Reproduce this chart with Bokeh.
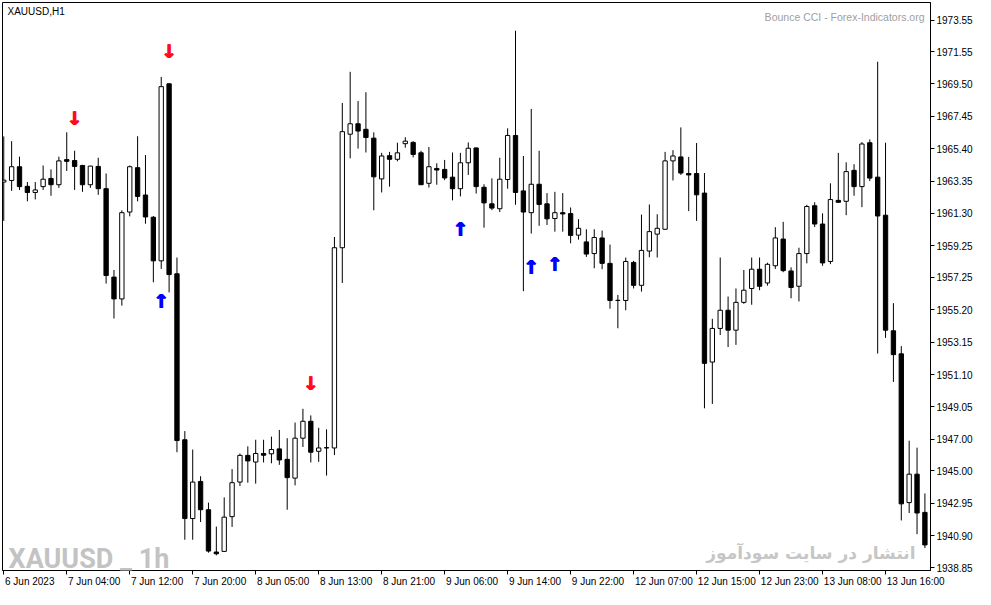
from bokeh.plotting import figure
from bokeh.models import Range1d, FixedTicker, PrintfTickFormatter, Label, ColumnDataSource, LinearAxis
from bokeh.core.properties import value
from bokeh.embed import file_html
from bokeh.resources import INLINE

# ---------------- data (XAUUSD, H1) ----------------
opens = [1963.29, 1963.39, 1964.26, 1963.02, 1962.63, 1963.00, 1963.52, 1963.12, 1964.71, 1964.65,
         1964.34, 1963.12, 1964.28, 1962.87, 1957.27, 1955.89, 1961.39, 1964.20, 1962.47, 1961.06,
         1958.30, 1969.51, 1957.48, 1946.97, 1941.98, 1944.33, 1942.54, 1939.86, 1939.90, 1942.10,
         1944.29, 1945.98, 1945.56, 1946.10, 1946.08, 1946.39, 1945.73, 1944.54, 1947.07, 1948.14,
         1946.24, 1946.45, 1946.45, 1959.13, 1966.32, 1966.98, 1966.63, 1966.07, 1963.49, 1964.96,
         1964.73, 1965.72, 1965.80, 1965.14, 1963.21, 1964.15, 1964.09, 1963.60, 1962.87, 1964.51,
         1965.45, 1962.96, 1961.91, 1961.60, 1963.45, 1966.24, 1962.73, 1961.35, 1963.15, 1961.91,
         1960.98, 1961.35, 1961.29, 1959.93, 1959.50, 1958.76, 1959.75, 1958.14, 1955.79, 1955.79,
         1958.20, 1956.75, 1958.92, 1959.99, 1960.30, 1964.63, 1964.88, 1963.83, 1963.83, 1962.59,
         1951.89, 1954.02, 1955.17, 1953.91, 1955.67, 1956.55, 1957.77, 1956.90, 1957.99, 1959.68,
         1957.66, 1956.69, 1958.76, 1961.79, 1960.63, 1958.26, 1962.13, 1962.07, 1964.03, 1963.00,
         1965.78, 1963.60, 1961.19, 1953.87, 1952.41, 1942.99, 1944.79, 1942.37]
highs = [1966.18, 1965.88, 1964.90, 1963.29, 1963.29, 1964.34, 1964.09, 1964.90, 1966.44, 1965.27,
         1964.38, 1964.32, 1964.83, 1963.83, 1957.72, 1961.50, 1964.34, 1966.19, 1965.00, 1961.14,
         1969.95, 1969.55, 1958.51, 1947.52, 1946.35, 1944.66, 1942.99, 1941.47, 1943.32, 1945.11,
         1946.10, 1946.55, 1946.97, 1946.97, 1947.17, 1947.59, 1947.07, 1948.06, 1948.93, 1948.51,
         1947.73, 1947.63, 1959.81, 1968.30, 1970.27, 1968.42, 1968.98, 1966.44, 1965.14, 1965.20,
         1965.78, 1966.13, 1965.88, 1965.27, 1965.51, 1964.48, 1964.69, 1965.16, 1965.14, 1965.80,
         1965.47, 1963.15, 1963.52, 1964.83, 1966.69, 1972.87, 1964.94, 1967.92, 1965.27, 1962.59,
         1962.67, 1962.59, 1961.68, 1960.94, 1960.30, 1960.30, 1960.22, 1959.33, 1956.14, 1958.51,
         1958.30, 1961.23, 1961.87, 1961.25, 1965.20, 1965.31, 1966.75, 1964.88, 1965.76, 1963.86,
         1954.63, 1958.51, 1956.04, 1956.55, 1957.72, 1958.51, 1958.51, 1958.18, 1960.43, 1960.77,
         1957.89, 1959.13, 1961.85, 1962.01, 1961.31, 1963.21, 1965.14, 1964.54, 1964.42, 1965.82,
         1965.99, 1970.91, 1965.78, 1955.62, 1952.90, 1946.91, 1946.47, 1943.57]
lows = [1960.83, 1962.73, 1962.79, 1962.07, 1962.19, 1962.79, 1962.42, 1962.92, 1963.99, 1962.79,
        1962.67, 1962.92, 1962.48, 1956.86, 1954.65, 1955.46, 1961.12, 1962.07, 1960.65, 1956.94,
        1957.79, 1956.30, 1946.18, 1940.64, 1940.64, 1941.76, 1939.82, 1939.65, 1939.88, 1941.45,
        1944.04, 1944.25, 1944.19, 1945.53, 1945.48, 1945.38, 1942.54, 1944.08, 1946.51, 1945.53,
        1945.57, 1944.70, 1946.00, 1956.90, 1964.79, 1965.41, 1965.16, 1961.50, 1962.63, 1963.00,
        1964.60, 1965.47, 1964.85, 1963.10, 1962.94, 1963.12, 1963.41, 1962.13, 1962.38, 1963.74,
        1962.56, 1960.40, 1961.51, 1961.39, 1962.87, 1961.85, 1956.38, 1960.03, 1960.52, 1960.57,
        1960.15, 1960.15, 1959.41, 1959.64, 1958.55, 1957.83, 1957.77, 1955.27, 1954.03, 1955.17,
        1956.55, 1956.35, 1958.53, 1958.51, 1960.26, 1963.39, 1963.74, 1961.45, 1960.83, 1948.96,
        1949.24, 1953.60, 1952.84, 1952.98, 1955.58, 1955.52, 1956.44, 1956.73, 1957.79, 1957.58,
        1955.93, 1955.73, 1958.14, 1960.44, 1957.99, 1958.09, 1961.97, 1961.19, 1962.42, 1961.70,
        1963.35, 1952.43, 1953.42, 1950.63, 1941.86, 1942.33, 1940.99, 1940.11]
closes = [1963.41, 1964.26, 1963.00, 1962.63, 1962.79, 1963.47, 1963.12, 1964.63, 1964.60, 1964.28,
          1963.12, 1964.30, 1962.87, 1957.37, 1955.89, 1961.35, 1964.26, 1962.38, 1961.08, 1958.30,
          1969.33, 1957.43, 1946.92, 1941.98, 1944.29, 1942.54, 1939.92, 1939.75, 1942.07, 1944.25,
          1945.98, 1945.63, 1946.10, 1945.99, 1946.35, 1945.69, 1944.57, 1947.07, 1948.14, 1946.18,
          1946.45, 1946.47, 1959.13, 1966.48, 1966.98, 1966.52, 1966.11, 1963.62, 1964.94, 1964.73,
          1965.14, 1965.88, 1965.04, 1963.12, 1964.26, 1964.05, 1963.55, 1962.87, 1964.51, 1965.43,
          1963.00, 1961.97, 1961.64, 1963.47, 1966.24, 1962.63, 1961.39, 1963.15, 1961.87, 1960.96,
          1961.35, 1961.27, 1959.91, 1960.36, 1958.73, 1959.78, 1958.14, 1955.79, 1955.80, 1958.26,
          1956.75, 1958.96, 1960.15, 1960.36, 1964.63, 1964.94, 1963.86, 1963.74, 1962.48, 1951.81,
          1954.02, 1955.17, 1953.91, 1955.67, 1956.44, 1957.77, 1956.69, 1958.08, 1959.75, 1957.68,
          1956.61, 1958.76, 1961.74, 1960.63, 1958.17, 1962.18, 1962.01, 1963.95, 1963.00, 1965.70,
          1963.54, 1961.14, 1953.91, 1952.36, 1942.91, 1944.79, 1942.33, 1940.31]

# indicator arrows (Bounce CCI)
sell_bars = [9, 21, 39]
sell_prices = [1967.37, 1971.60, 1950.58]
buy_bars = [20, 58, 67, 70]
buy_prices = [1955.73, 1960.31, 1957.93, 1958.10]

# axis ticks
x_tick_bars = [0, 8, 16, 24, 32, 40, 48, 56, 64, 72, 80, 88, 96, 104, 112]
x_tick_labels = ["6 Jun 2023", "7 Jun 04:00", "7 Jun 12:00", "7 Jun 20:00", "8 Jun 05:00",
                 "8 Jun 13:00", "8 Jun 21:00", "9 Jun 06:00", "9 Jun 14:00", "9 Jun 22:00",
                 "12 Jun 07:00", "12 Jun 15:00", "12 Jun 23:00", "13 Jun 08:00", "13 Jun 16:00"]
y_ticks = [1938.85, 1940.90, 1942.95, 1945.00, 1947.00, 1949.05, 1951.10, 1953.15, 1955.20,
           1957.25, 1959.25, 1961.30, 1963.35, 1965.40, 1967.45, 1969.50, 1971.55, 1973.55]

# ---------------- figure ----------------
X0, X1 = -0.16, 117.71
Y0, Y1 = 1938.69, 1974.66
FONT = "Liberation Sans"
LABEL_PX = 10
PX_PER_BAR = 7.8   # approx. horizontal scale, used only to left-align the time labels

p = figure(width=975, height=589, x_range=Range1d(X0, X1), y_range=Range1d(Y0, Y1),
           output_backend="svg", toolbar_location=None, y_axis_location="right",
           min_border_left=2, min_border_top=2, min_border_bottom=0, min_border_right=0)
p.background_fill_color = "white"
p.border_fill_color = "white"
p.outline_line_color = "black"
p.outline_line_width = 1
p.grid.visible = False

# y axis
p.yaxis.ticker = FixedTicker(ticks=y_ticks)
p.yaxis.formatter = PrintfTickFormatter(format="%.2f")
p.yaxis.major_label_text_font = FONT
p.yaxis.major_label_text_font_size = f"{LABEL_PX}px"
p.yaxis.major_label_text_color = "black"
p.yaxis.major_tick_in = 0
p.yaxis.major_tick_out = 4
p.yaxis.minor_tick_line_color = None
p.yaxis.major_label_standoff = 2
p.yaxis.axis_line_color = "black"

# x axis 1: tick marks only
p.xaxis.ticker = FixedTicker(ticks=x_tick_bars)
p.xaxis.major_label_overrides = {t: "" for t in x_tick_bars}
p.xaxis.major_tick_in = 0
p.xaxis.major_tick_out = 4
p.xaxis.minor_tick_line_color = None
p.xaxis.axis_line_color = "black"
p.xaxis.major_label_text_font_size = "1px"
p.xaxis.major_label_standoff = 0

# x axis 2: labels only, shifted so that each label starts at its tick (MetaTrader style)
ADV = {" ": 0.278, ":": 0.278, "J": 0.5, "u": 0.556, "n": 0.556}
def text_w(s):
    return sum(ADV.get(ch, 0.556) for ch in s) * LABEL_PX

lab_pos = [round(t + (text_w(s) / 2 + 1) / PX_PER_BAR, 3) for t, s in zip(x_tick_bars, x_tick_labels)]
ax2 = LinearAxis(ticker=FixedTicker(ticks=lab_pos),
                 major_label_overrides={pos: s for pos, s in zip(lab_pos, x_tick_labels)})
ax2.axis_line_color = None
ax2.major_tick_line_color = None
ax2.minor_tick_line_color = None
ax2.major_tick_in = 0
ax2.major_tick_out = 0
ax2.major_label_standoff = 1
ax2.major_label_text_font = FONT
ax2.major_label_text_font_size = f"{LABEL_PX}px"
ax2.major_label_text_color = "black"
p.add_layout(ax2, "below")

# candles
bars = list(range(len(opens)))
up = [i for i in bars if closes[i] >= opens[i]]
dn = [i for i in bars if closes[i] < opens[i]]

p.segment(x0=bars, y0=lows, x1=bars, y1=highs, line_color="black", line_width=1)
up_src = ColumnDataSource(dict(x=up, top=[closes[i] for i in up], bottom=[opens[i] for i in up]))
dn_src = ColumnDataSource(dict(x=dn, top=[opens[i] for i in dn], bottom=[closes[i] for i in dn]))
p.vbar(x="x", top="top", bottom="bottom", width=0.55, source=up_src,
       fill_color="white", line_color="black", line_width=1)
p.vbar(x="x", top="top", bottom="bottom", width=0.55, source=dn_src,
       fill_color="black", line_color="black", line_width=1)

# arrows (drawn three times with a small offset to make them bold)
for dx in (-0.7, 0.0, 0.7):
    p.text(x=sell_bars, y=sell_prices, text=["\u2193"] * len(sell_bars), x_offset=dx,
           text_font=value("DejaVu Sans"), text_font_style="bold", text_font_size="19px",
           text_color="#ff0a1e", text_align="center", text_baseline="middle")
    p.text(x=buy_bars, y=buy_prices, text=["\u2191"] * len(buy_bars), x_offset=dx,
           text_font=value("DejaVu Sans"), text_font_style="bold", text_font_size="19px",
           text_color="#0000ff", text_align="center", text_baseline="middle")

# texts
p.add_layout(Label(x=5, y=Y1 - 0.2, x_units="screen", y_units="data", text="XAUUSD,H1",
                   text_font=FONT, text_font_size="10px", text_color="black",
                   text_align="left", text_baseline="top"))
p.add_layout(Label(x=X1 - 0.76, y=Y1 - 0.51, x_units="data", y_units="data",
                   text="Bounce CCI - Forex-Indicators.org",
                   text_font=FONT, text_font_size="10.5px", text_color="#a0a0a0",
                   text_align="right", text_baseline="top"))
p.add_layout(Label(x=6, y=Y0 + 0.72, x_units="screen", y_units="data", text="XAUUSD _ 1h",
                   text_font="Roboto", text_font_style="bold",
                   text_font_size="27px", text_color="#c3c3c3",
                   text_align="left", text_baseline="alphabetic"))
p.add_layout(Label(x=X1 - 1.9, y=Y0 + 1.08, x_units="data", y_units="data",
                   text="انتشار در سایت سودآموز",
                   text_font="DejaVu Sans", text_font_style="bold",
                   text_font_size="17px", text_color="#c6c6c6",
                   text_align="right", text_baseline="alphabetic"))

open("out.html", "w").write(file_html(p, INLINE))
